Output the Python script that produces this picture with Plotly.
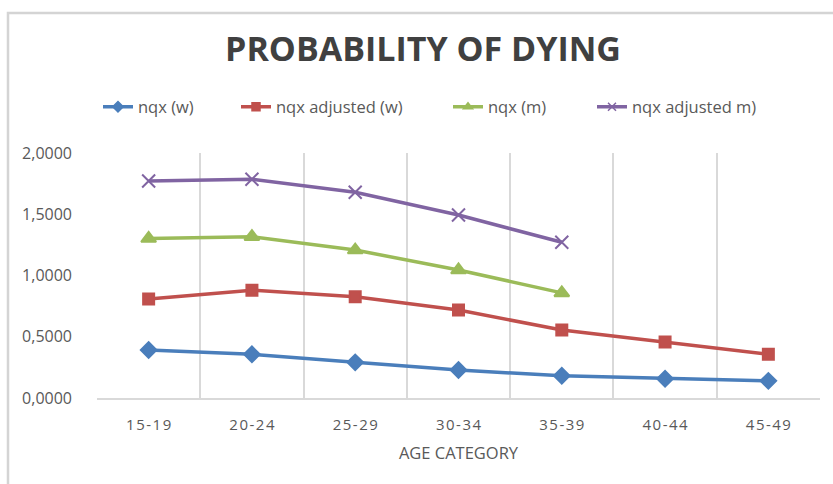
import plotly.graph_objects as go

categories = ["15-19", "20-24", "25-29", "30-34", "35-39", "40-44", "45-49"]
nqx_w = [0.392, 0.357, 0.291, 0.229, 0.181, 0.157, 0.140]
nqx_adj_w = [0.808, 0.880, 0.827, 0.718, 0.555, 0.458, 0.357]
nqx_m = [1.302, 1.317, 1.208, 1.045, 0.858]
nqx_adj_m = [1.771, 1.786, 1.679, 1.494, 1.271]

# name, values, colour, marker symbol, marker size, legend id, legend left edge (px)
series = [
    ("nqx (w)", nqx_w, "#4A7EBB", "diamond", 12, "legend", 98),
    ("nqx adjusted (w)", nqx_adj_w, "#C0504D", "square", 11, "legend2", 236),
    ("nqx (m)", nqx_m, "#9BBB59", "triangle-up", 13, "legend3", 448),
    ("nqx adjusted m)", nqx_adj_m, "#8064A2", "x-thin", 13, "legend4", 592),
]

grey = "#595959"
plot_left, plot_right, plot_top, plot_bottom = 97, 820, 153, 398
pw = plot_right - plot_left
ph = plot_bottom - plot_top


def spaced(label):
    # Excel-style wide letter spacing on the category labels
    return "\u200a".join(label)


fig = go.Figure()
legends = {}
for name, vals, color, sym, size, leg, left in series:
    fig.add_trace(go.Scatter(
        x=categories[:len(vals)], y=vals, name=name, mode="lines+markers",
        line=dict(color=color, width=3.5),
        marker=dict(symbol=sym, size=size, color=color,
                    line=dict(color=color, width=2)),
        showlegend=False,
    ))
    # legend entry with a smaller marker
    fig.add_trace(go.Scatter(
        x=[None], y=[None], name=name, mode="lines+markers", legend=leg,
        line=dict(color=color, width=3.5),
        marker=dict(symbol=sym, size=8, color=color,
                    line=dict(color=color, width=1.5)),
    ))
    legends[leg] = dict(orientation="h", x=(left - plot_left) / pw, xanchor="left",
                        y=(plot_bottom - 107) / ph, yanchor="middle",
                        bgcolor="rgba(0,0,0,0)",
                        font=dict(size=16.5, color=grey, family="Open Sans"))

fig.update_layout(
    width=833, height=484,
    margin=dict(l=plot_left, r=833 - plot_right, t=plot_top, b=484 - plot_bottom),
    paper_bgcolor="white", plot_bgcolor="white",
    separators=",.",
    font=dict(family="Open Sans", color=grey, size=13),
    title=dict(text="<b>PROBABILITY OF DYING</b>", x=423 / 833, xanchor="center",
               y=1 - 49 / 484, yanchor="middle",
               font=dict(family="Open Sans", size=34, color="#404040")),
    showlegend=True,
    xaxis=dict(type="category", range=[-0.5, 6.5], tickson="boundaries",
               tickmode="array", tickvals=categories,
               ticktext=[spaced(c) for c in categories],
               showgrid=True, gridcolor="#d9d9d9", gridwidth=1.5,
               showline=True, linecolor="#d9d9d9", linewidth=1.5,
               ticks="", ticklabelstandoff=12,
               tickfont=dict(size=15, color=grey),
               title=dict(text="AGE CATEGORY", standoff=15,
                          font=dict(size=16.5, color=grey))),
    yaxis=dict(range=[0, 2], dtick=0.5, tickformat=".4f", showgrid=False,
               zeroline=False, showline=False, ticks="",
               ticklabelstandoff=24, tickfont=dict(size=16, color=grey)),
    shapes=[dict(type="rect", xref="paper", yref="paper",
                 x0=(8 - plot_left) / pw, x1=1.2, y0=-1.0,
                 y1=(plot_bottom - 13) / ph,
                 line=dict(color="#d4d4d4", width=2.5), fillcolor="rgba(0,0,0,0)",
                 layer="below")],
    **legends,
)

fig.write_html("out.html")
